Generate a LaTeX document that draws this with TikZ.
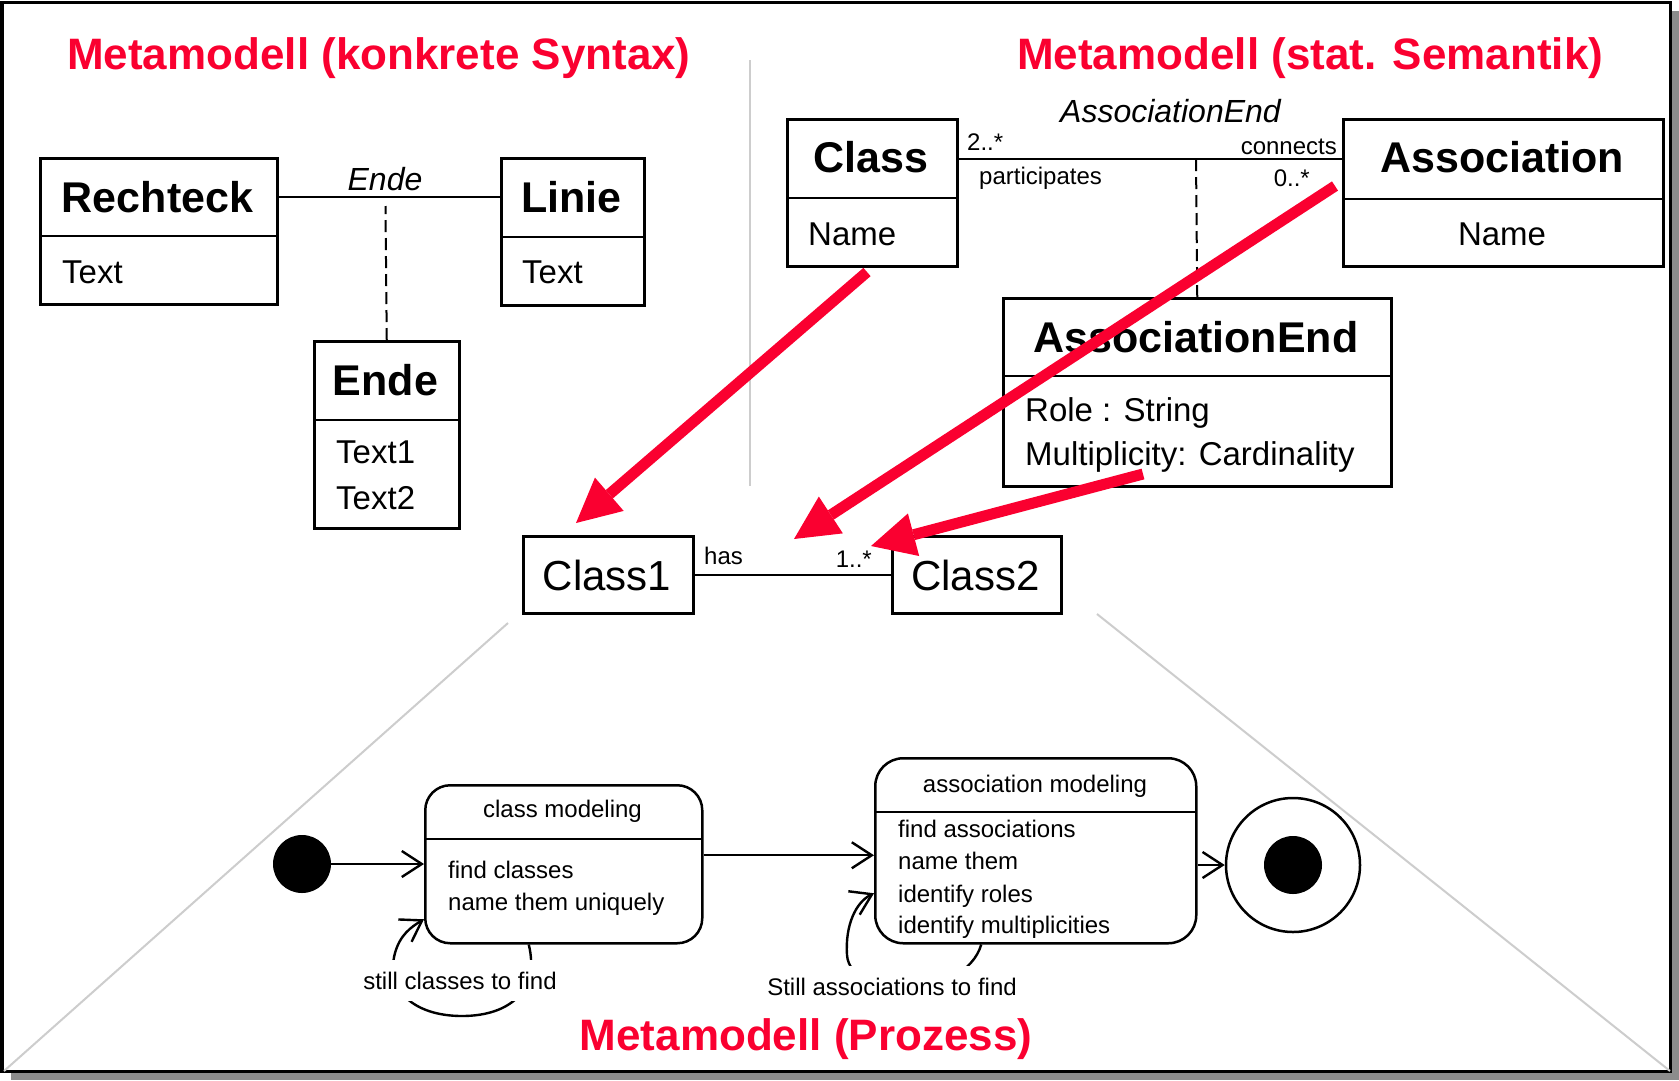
\documentclass[tikz,border=0pt]{standalone}
\usepackage{fontspec}
\setmainfont{Liberation Sans}
\usetikzlibrary{arrows.meta}
\definecolor{tred}{RGB}{250,0,48}
\definecolor{lgray}{RGB}{205,205,205}
\definecolor{shadowgray}{RGB}{140,140,140}
\tikzset{
  txt/.style={inner sep=0pt, text=black},
  titletext/.style={inner sep=0pt, text=tred, font=\fontsize{44bp}{52bp}\selectfont\bfseries},
  hdr/.style={txt, font=\fontsize{43bp}{50bp}\selectfont\bfseries},
  cname/.style={txt, font=\fontsize{42bp}{50bp}\selectfont},
  attr/.style={txt, font=\fontsize{33bp}{40bp}\selectfont},
  rolel/.style={txt, font=\fontsize{32bp}{40bp}\selectfont\itshape},
  small/.style={txt, font=\fontsize{24bp}{30bp}\selectfont},
  umlbox/.style={draw, line width=2.5bp, inner sep=0pt, anchor=north west},
  statebox/.style={draw, line width=2.5bp, inner sep=0pt, anchor=north west, rounded corners=#1},
  divline/.style={line width=2.5bp},
  assocline/.style={line width=2.2bp},
  dashline/.style={line width=2bp, dash pattern=on 12bp off 6bp},
  grayline/.style={draw=lgray, line width=2bp},
  redarrow/.style={draw=tred, line width=11bp, -{Triangle[length=44bp,width=44bp,line width=0pt]}},
  trans/.style={line width=2.4bp, -{Straight Barb[length=20bp,width=26bp]}},
  loopl/.style={small, fill=white, inner xsep=2bp, inner ysep=12bp, anchor=base}
}
\begin{document}
\begin{tikzpicture}[x=1bp,y=-1bp]
\useasboundingbox (0,0) rectangle (1679,1080);
% frame with shadow
\fill[shadowgray] (11,11) rectangle (1679,1080);
\draw[line width=3bp, fill=white] (2,2) rectangle (1670,1071);
% gray guide lines
\draw[grayline] (750,60) -- (750,486);
\draw[grayline] (508,623) -- (4,1071);
\draw[grayline] (1097,614) -- (1670,1071);
% titles
\node[titletext, anchor=base west] (t1) at (67,69) {Metamodell (konkrete Syntax)};
\node[titletext, anchor=base west] (t2) at (1017,69) {Metamodell (stat. Semantik)};
\node[titletext, anchor=base] (t3) at (806,1050) {Metamodell (Prozess)};

% ---------- konkrete Syntax ----------
\node[umlbox, minimum width=237bp, minimum height=146bp] (recht) at (39,157) {};
\draw[divline] (39,236) -- (276,236);
\node[hdr, anchor=base] (rechtH) at (157.5,212) {Rechteck};
\node[attr, anchor=base west] (rechtA) at (62,283) {Text};

\node[umlbox, minimum width=143bp, minimum height=147bp] (linie) at (500,157) {};
\draw[divline] (500,237) -- (643,237);
\node[hdr, anchor=base] (linieH) at (571.5,212) {Linie};
\node[attr, anchor=base west] (linieA) at (522,283) {Text};

\node[umlbox, minimum width=145bp, minimum height=187bp] (ende) at (313,340) {};
\draw[divline] (313,420) -- (458,420);
\node[hdr, anchor=base] (endeH) at (385.5,395) {Ende};
\node[attr, anchor=base west] (endeA1) at (336,463) {Text1};
\node[attr, anchor=base west] (endeA2) at (336,509) {Text2};

\draw[assocline] ([yshift=-40bp]recht.north east) -- ([yshift=-40bp]linie.north west);
\node[rolel, anchor=base] (endeL) at (385,190) {Ende};
\coordinate (endeTop) at (385.5,206);
\draw[dashline] (ende.north) -- (endeTop);

% ---------- stat. Semantik ----------
\node[umlbox, minimum width=170bp, minimum height=147bp] (cls) at (786,118) {};
\draw[divline] (786,198) -- (956,198);
\node[hdr, anchor=base] (clsH) at (871,172) {Class};
\node[attr, anchor=base west] (clsA) at (808,245) {Name};

\node[umlbox, minimum width=320bp, minimum height=147bp] (asc) at (1342,118) {};
\draw[divline] (1342,199) -- (1662,199);
\node[hdr, anchor=base] (ascH) at (1502,172) {Association};
\node[attr, anchor=base] (ascA) at (1502,245) {Name};

\node[umlbox, minimum width=388bp, minimum height=188bp] (ae) at (1002,297) {};
\draw[divline] (1002,376) -- (1390,376);
\node[hdr, anchor=base] (aeH) at (1196,352) {AssociationEnd};
\node[attr, anchor=base west] (aeA1) at (1025,421) {Role : String};
\node[attr, anchor=base west] (aeA2) at (1025,465) {Multiplicity: Cardinality};

\draw[assocline] ([yshift=-41bp]cls.north east) -- ([yshift=-41bp]asc.north west);
\coordinate (aeTop) at (1196,159);
\draw[dashline] (ae.north) -- (aeTop);
\node[rolel, anchor=base west] (aeL) at (1060,122) {AssociationEnd};
\node[small, anchor=base west] (m1) at (967,150) {2..*};
\node[small, anchor=base west] (r1) at (979,184) {participates};
\node[small, anchor=base east] (r2) at (1337,154) {connects};
\node[small, anchor=base east] (m2) at (1310,186) {0..*};

% ---------- model ----------
\node[umlbox, minimum width=170bp, minimum height=77bp] (c1) at (522,535) {};
\node[cname, anchor=base] (c1T) at (607,590) {Class1};
\node[umlbox, minimum width=169bp, minimum height=77bp] (c2) at (891,535) {};
\node[cname, anchor=base] (c2T) at (975.5,590) {Class2};
\draw[assocline] (c1.east) -- (c2.west);
\node[small, anchor=base west] (hasL) at (704,564) {has};
\node[small, anchor=base east] (m3) at (872,567) {1..*};

% ---------- Prozess ----------
\node[circle, fill=black, minimum size=58bp, inner sep=0pt] (init) at (302,864) {};
\node[statebox=25bp, minimum width=277bp, minimum height=158bp] (cm) at (424,784) {};
\draw[divline] (424,839) -- (701,839);
\node[small, anchor=base] (cmH) at (562.5,817) {class modeling};
\node[small, anchor=base west] (cmA1) at (448,878) {find classes};
\node[small, anchor=base west] (cmA2) at (448,910) {name them uniquely};

\node[statebox=28bp, minimum width=321bp, minimum height=185bp] (am) at (874,757) {};
\draw[divline] (874,812) -- (1195,812);
\node[small, anchor=base] (amH) at (1035,792) {association modeling};
\node[small, anchor=base west] (amA1) at (898,837) {find associations};
\node[small, anchor=base west] (amA2) at (898,869) {name them};
\node[small, anchor=base west] (amA3) at (898,902) {identify roles};
\node[small, anchor=base west] (amA4) at (898,933) {identify multiplicities};

\node[circle, draw, line width=2.5bp, minimum size=134bp, inner sep=0pt] (fin) at (1293,865) {};
\node[circle, fill=black, minimum size=58bp, inner sep=0pt] (finIn) at (fin.center) {};

\draw[trans] (init) -- (cm.west |- init);
\draw[trans] ([yshift=9bp]cm.east) -- ([yshift=9bp]cm.east -| am.west);
\draw[trans] (am.east |- fin) -- (fin.west);

\coordinate (cl1) at (462,1016);
\coordinate (cl2) at (395,953);
\draw[trans] ([xshift=-35bp]cm.south) .. controls (540,990) and (510,1016) .. (cl1)
  .. controls (414,1016) and (385,990) .. (cl2)
  .. controls (400,935) and (411,927) .. ([yshift=-55bp]cm.west);
\node[loopl] (clL) at (460,989) {still classes to find};

\coordinate (al1) at (847,955);
\draw[trans] ([xshift=-54.5bp]am.south) .. controls (965,1000) and (850,1000) .. (al1)
  .. controls (845,925) and (856,902) .. ([yshift=-42.5bp]am.west);
\node[loopl] (alL) at (892,995) {Still associations to find};

% ---------- red mapping arrows ----------
\coordinate (ra1s) at (867,272);
\coordinate (ra1t) at (576,523);
\coordinate (ra2s) at (1335,186);
\coordinate (ra2t) at (794,539);
\coordinate (ra3s) at (1143,474);
\coordinate (ra3t) at (871,546);
\draw[redarrow] (ra1s) -- (ra1t);
\draw[redarrow] (ra2s) -- (ra2t);
\draw[redarrow] (ra3s) -- (ra3t);
\end{tikzpicture}
\end{document}
